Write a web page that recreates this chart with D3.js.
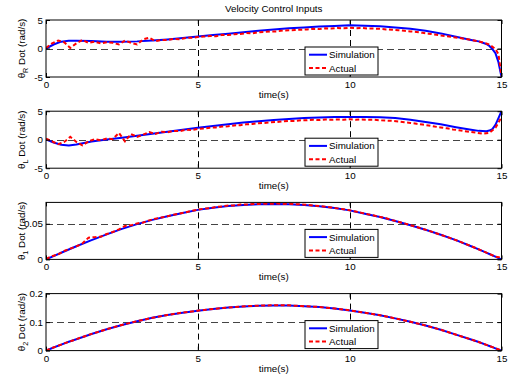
<!DOCTYPE html>
<html>
<head>
<meta charset="utf-8">
<script src="https://cdn.jsdelivr.net/npm/d3@7"></script>
<style>
  body { margin: 0; background: #fff; }
  svg { display: block; }
</style>
</head>
<body>
<svg id="chart" width="509" height="377"></svg>
<script>
// ---- data ----
const chartTitle = "Velocity Control Inputs";
const xLabel = "time(s)";
const legendLabels = ["Simulation", "Actual"];
const xTicks = [0, 5, 10, 15];

// simulation samples (s)
const simTime = [0, 0.25, 0.5, 0.75, 1,
  1.5, 2, 2.5, 3, 3.5, 4, 4.5, 5, 5.5, 6, 6.5, 7, 7.5, 8, 8.5, 9, 9.5, 10,
  10.5, 11, 11.5, 12, 12.5, 13, 13.5, 14,
  14.25, 14.5, 14.6, 14.7, 14.8, 14.9, 15];

// measured samples (s)
const actTime = [
  0, 0.2, 0.4, 0.6, 0.8, 1, 1.2, 1.4, 1.6, 1.8,
  2, 2.2, 2.4, 2.6, 2.8, 3, 3.2, 3.4, 3.6, 3.8,
  4, 4.2, 4.4, 4.6, 4.8, 5, 5.2, 5.4, 5.6, 5.8,
  6, 6.2, 6.4, 6.6, 6.8, 7, 7.2, 7.4, 7.6, 7.8,
  8, 8.2, 8.4, 8.6, 8.8, 9, 9.2, 9.4, 9.6, 9.8,
  10, 10.2, 10.4, 10.6, 10.8, 11, 11.2, 11.4, 11.6, 11.8,
  12, 12.2, 12.4, 12.6, 12.8, 13, 13.2, 13.4, 13.6, 13.8,
  14, 14.2, 14.4, 14.6, 14.8, 14.9, 15];

// right wheel rate (rad/s)
const simThetaR = [0, 0.7, 1.2, 1.35, 1.35,
  1.3, 1.2, 1.2, 1.25, 1.4, 1.6, 1.85, 2.1, 2.35, 2.6, 2.85, 3.1, 3.35, 3.55, 3.7, 3.85, 3.95, 4.1,
  4.0, 3.9, 3.7, 3.45, 3.1, 2.65, 2.05, 1.5,
  1.25, 0.8, 0.45, -0.1, -0.8, -2.4, -5];
const actThetaR = [
  0.1, 0.9, 1.4, 1.1, 0.1, 0.9, 1.5, 1.0, 1.2, 0.9,
  1.1, 1.0, 0.7, 1.4, 1.0, 0.7, 1.6, 1.9, 1.3, 1.5,
  1.5, 1.7, 1.6, 1.85, 1.9, 2.0, 2.1, 2.2, 2.15, 2.4,
  2.35, 2.5, 2.55, 2.7, 2.65, 2.85, 2.9, 3.0, 3.0, 3.15,
  3.2, 3.25, 3.3, 3.35, 3.45, 3.4, 3.55, 3.5, 3.6, 3.55,
  3.65, 3.55, 3.6, 3.5, 3.5, 3.45, 3.35, 3.3, 3.2, 3.1,
  3.0, 2.9, 2.75, 2.6, 2.45, 2.3, 2.15, 2.0, 1.85, 1.7,
  1.5, 1.3, 1.05, 0.7, -0.1, -1.0, -4.8];

// left wheel rate (rad/s)
const simThetaL = [0.05, -0.5, -0.9, -1.0, -0.85,
  -0.3, 0.05, 0.35, 0.7, 1.05, 1.4, 1.75, 2.1, 2.4, 2.7, 3.0, 3.25, 3.45, 3.65, 3.8, 3.9, 3.97, 4.0,
  4.0, 3.95, 3.8, 3.5, 3.1, 2.7, 2.2, 1.75,
  1.55, 1.5, 1.6, 1.85, 2.6, 3.8, 5];
const actThetaL = [
  0.2, -0.3, -0.8, -0.4, 0.5, -0.4, -1.0, -0.3, 0.1, -0.1,
  0.2, 0.1, 1.2, -0.3, 1.0, 0.5, 0.9, 1.35, 1.0, 1.4,
  1.3, 1.55, 1.5, 1.75, 1.7, 1.9, 1.95, 2.1, 2.15, 2.3,
  2.35, 2.5, 2.55, 2.7, 2.75, 2.9, 2.95, 3.05, 3.1, 3.2,
  3.3, 3.3, 3.4, 3.4, 3.5, 3.45, 3.55, 3.5, 3.55, 3.5,
  3.6, 3.5, 3.55, 3.5, 3.5, 3.4, 3.35, 3.3, 3.2, 3.05,
  2.95, 2.8, 2.65, 2.5, 2.3, 2.15, 2.0, 1.8, 1.65, 1.5,
  1.35, 1.2, 1.05, 1.2, 2.1, 3.0, 4.0];

// joint 1 rate (rad/s)
const simTheta1 = [0, 0.0047, 0.0093, 0.0139, 0.0184,
  0.027, 0.0352, 0.0428, 0.0495, 0.0555, 0.0605, 0.065, 0.0695, 0.0725, 0.075, 0.0765, 0.0774, 0.0777, 0.0774, 0.0763, 0.0745, 0.072, 0.0688,
  0.064, 0.0595, 0.054, 0.048, 0.0415, 0.0345, 0.027, 0.0185,
  0.014, 0.0095, 0.0076, 0.0057, 0.0038, 0.0019, 0];
const actTheta1 = [
  0.0008, 0.0045, 0.0072, 0.0118, 0.0152, 0.0182, 0.0225, 0.0305, 0.0312, 0.0318,
  0.0356, 0.0385, 0.0422, 0.0468, 0.0478, 0.0505, 0.0518, 0.0548, 0.0572, 0.0588,
  0.0605, 0.0628, 0.0645, 0.0662, 0.068, 0.0698, 0.0712, 0.0718, 0.0736, 0.0744,
  0.0757, 0.0758, 0.0769, 0.077, 0.0777, 0.0779, 0.0783, 0.078, 0.0784, 0.0779,
  0.0782, 0.0776, 0.0772, 0.0765, 0.0756, 0.0751, 0.0738, 0.0729, 0.0716, 0.0704,
  0.069, 0.0671, 0.0653, 0.0633, 0.0615, 0.0597, 0.0578, 0.0551, 0.0529, 0.0506,
  0.0481, 0.0456, 0.0429, 0.0403, 0.0374, 0.0346, 0.0316, 0.0286, 0.0254, 0.022,
  0.0186, 0.015, 0.0114, 0.0077, 0.0039, 0.003, 0.004];

// joint 2 rate (rad/s)
const simTheta2 = [0, 0.011, 0.021, 0.031, 0.04,
  0.058, 0.075, 0.09, 0.103, 0.115, 0.125, 0.133, 0.14, 0.146, 0.151, 0.155, 0.157, 0.158, 0.158, 0.156, 0.153, 0.148, 0.141,
  0.133, 0.124, 0.113, 0.101, 0.088, 0.073, 0.056, 0.039,
  0.03, 0.02, 0.016, 0.012, 0.008, 0.004, 0];
const actTheta2 = [
  0.0005, 0.0092, 0.017, 0.0252, 0.0325, 0.0402, 0.0475, 0.0548, 0.0618, 0.0685,
  0.0752, 0.0812, 0.0872, 0.0928, 0.0982, 0.1032, 0.1078, 0.1126, 0.1172, 0.121,
  0.1252, 0.1285, 0.1318, 0.1346, 0.1375, 0.1402, 0.1426, 0.145, 0.1472, 0.1492,
  0.1512, 0.1528, 0.1545, 0.1558, 0.1568, 0.1578, 0.1585, 0.1588, 0.1592, 0.159,
  0.1588, 0.1575, 0.1565, 0.1555, 0.1542, 0.1532, 0.151, 0.149, 0.1468, 0.144,
  0.1412, 0.138, 0.1346, 0.1312, 0.1276, 0.1241, 0.1198, 0.1153, 0.1107, 0.1059,
  0.101, 0.0958, 0.0906, 0.0851, 0.0791, 0.0731, 0.0663, 0.0595, 0.0527, 0.0458,
  0.0391, 0.0318, 0.0242, 0.0162, 0.0082, 0.0042, 0.0004];

// y axis ticks per subplot
const yTicksWheel = [-5, 0, 5];
const yTickLabelsWheel = ["-5", "0", "5"];
const yTicksJoint1 = [0, 0.05];
const yTickLabelsJoint1 = ["0", "0.05"];
const yTicksJoint2 = [0, 0.1, 0.2];
const yTickLabelsJoint2 = ["0", "0.1", "0.2"];
const ySubscripts = ["R", "L", "1", "2"];

const panels = [
  { sub: ySubscripts[0], domain: [-5, 5], ticks: yTicksWheel, labels: yTickLabelsWheel, sim: simThetaR, act: actThetaR },
  { sub: ySubscripts[1], domain: [-5, 5], ticks: yTicksWheel, labels: yTickLabelsWheel, sim: simThetaL, act: actThetaL },
  { sub: ySubscripts[2], domain: [0, 0.08], ticks: yTicksJoint1, labels: yTickLabelsJoint1, sim: simTheta1, act: actTheta1 },
  { sub: ySubscripts[3], domain: [0, 0.2], ticks: yTicksJoint2, labels: yTickLabelsJoint2, sim: simTheta2, act: actTheta2 }
];

// ---- drawing ----
const FONT = '"Liberation Sans", Arial, Helvetica, sans-serif';
const FS = 9.8;
const BLUE = "#0000ff", RED = "#ff0000";

const svg = d3.select("#chart").attr("font-family", FONT);
const x = d3.scaleLinear().domain([0, 15]).range([46, 501.5]);
const firstTop = 20, step = 91.2, plotH = 57;
const midX = (x.range()[0] + x.range()[1]) / 2;

svg.append("text")
  .attr("x", midX).attr("y", 12)
  .attr("text-anchor", "middle")
  .attr("font-size", FS)
  .attr("fill", "#000")
  .text(chartTitle);

const defs = svg.append("defs");

function styleAxis(sel) {
  sel.select(".domain").remove();
  sel.attr("font-family", FONT).attr("font-size", FS);
  sel.selectAll("line").attr("stroke", "#000");
  sel.selectAll("text").attr("fill", "#000");
}

panels.forEach((p, i) => {
  const top = firstTop + i * step;
  const bottom = top + plotH;
  const y = d3.scaleLinear().domain(p.domain).range([bottom, top]);
  const g = svg.append("g");

  // dashed grid
  g.append("g").selectAll("line")
    .data(xTicks.filter(t => t > x.domain()[0] && t < x.domain()[1]))
    .join("line")
    .attr("x1", d => Math.round(x(d)) + 0.5).attr("x2", d => Math.round(x(d)) + 0.5)
    .attr("y1", top).attr("y2", bottom)
    .attr("stroke", "#000").attr("stroke-width", 1)
    .attr("stroke-dasharray", "6,4");
  g.append("g").selectAll("line")
    .data(p.ticks.filter(v => v > p.domain[0] && v < p.domain[1]))
    .join("line")
    .attr("x1", x(0)).attr("x2", x(15))
    .attr("y1", d => Math.round(y(d)) + 0.5).attr("y2", d => Math.round(y(d)) + 0.5)
    .attr("stroke", "#444").attr("stroke-width", 1)
    .attr("stroke-dasharray", "7,4");

  // series
  const clipId = "plotclip" + i;
  defs.append("clipPath").attr("id", clipId)
    .append("rect")
    .attr("x", x(0)).attr("y", top - 1)
    .attr("width", x(15) - x(0)).attr("height", plotH + 2);

  const lineSim = d3.line().x((d, j) => x(simTime[j])).y(d => y(d));
  const lineAct = d3.line().x((d, j) => x(actTime[j])).y(d => y(d));
  const series = g.append("g").attr("clip-path", `url(#${clipId})`);
  series.append("path").datum(p.sim)
    .attr("d", lineSim).attr("fill", "none")
    .attr("stroke", BLUE).attr("stroke-width", 2)
    .attr("stroke-linejoin", "round");
  series.append("path").datum(p.act)
    .attr("d", lineAct).attr("fill", "none")
    .attr("stroke", RED).attr("stroke-width", 2)
    .attr("stroke-dasharray", "4,2.5");

  // axes with inward ticks
  g.append("g").attr("transform", `translate(0,${bottom})`)
    .call(d3.axisBottom(x).tickValues(xTicks).tickSizeInner(-4).tickSizeOuter(0)
      .tickPadding(4).tickFormat(d3.format("d")))
    .call(styleAxis);
  g.append("g").attr("transform", `translate(0,${top})`)
    .call(d3.axisTop(x).tickValues(xTicks).tickSizeInner(-4).tickSizeOuter(0).tickFormat(""))
    .call(styleAxis);
  g.append("g").attr("transform", `translate(${x(0)},0)`)
    .call(d3.axisLeft(y).tickValues(p.ticks).tickSizeInner(-4).tickSizeOuter(0)
      .tickPadding(3).tickFormat((d, j) => p.labels[j]))
    .call(styleAxis);
  g.append("g").attr("transform", `translate(${x(15)},0)`)
    .call(d3.axisRight(y).tickValues(p.ticks).tickSizeInner(-4).tickSizeOuter(0).tickFormat(""))
    .call(styleAxis);

  // axes box
  g.append("rect")
    .attr("x", x(0)).attr("y", top)
    .attr("width", x(15) - x(0)).attr("height", plotH)
    .attr("fill", "none").attr("stroke", "#000").attr("stroke-width", 1);

  // x label
  g.append("text")
    .attr("x", midX).attr("y", bottom + 21)
    .attr("text-anchor", "middle").attr("font-size", FS)
    .text(xLabel);

  // y label with subscript
  const yl = g.append("text")
    .attr("transform", `translate(25,${(top + bottom) / 2}) rotate(-90)`)
    .attr("text-anchor", "middle").attr("font-size", FS);
  yl.append("tspan").text("\u03b8");
  yl.append("tspan").attr("dy", 2.8).attr("font-size", FS - 2.6).text(p.sub);
  yl.append("tspan").attr("dy", -2.8).text(" Dot (rad/s)");

  // legend
  const lx = 305, ly = bottom - 30, lw = 73, lh = 28;
  const lg = g.append("g");
  lg.append("rect").attr("x", lx).attr("y", ly).attr("width", lw).attr("height", lh)
    .attr("fill", "#fff").attr("stroke", "#000").attr("stroke-width", 1);
  const rows = [
    { label: legendLabels[0], color: BLUE, dash: null, yy: ly + 7.7 },
    { label: legendLabels[1], color: RED, dash: "4,2.5", yy: ly + 21 }
  ];
  rows.forEach(r => {
    lg.append("line").attr("x1", lx + 4).attr("x2", lx + 22)
      .attr("y1", r.yy).attr("y2", r.yy)
      .attr("stroke", r.color).attr("stroke-width", 2)
      .attr("stroke-dasharray", r.dash);
    lg.append("text").attr("x", lx + 24).attr("y", r.yy + 3.5)
      .attr("font-size", FS).text(r.label);
  });
});
</script>
</body>
</html>
